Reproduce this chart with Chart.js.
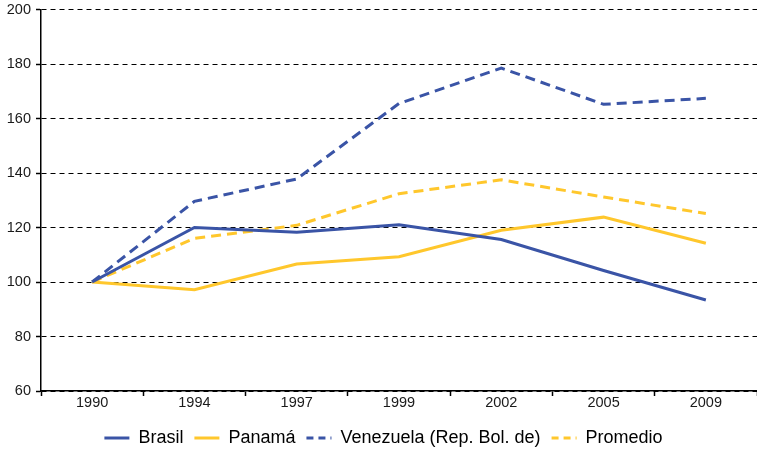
<!DOCTYPE html>
<html>
<head>
<meta charset="utf-8">
<script src="https://cdn.jsdelivr.net/npm/chart.js@4"></script>
<style>
html,body{margin:0;padding:0;background:#fff;}
#wrap{width:757px;height:449px;}
</style>
</head>
<body>
<div id="wrap"><canvas id="c" width="757" height="449"></canvas></div>
<script>
const categories = ['1990','1994','1997','1999','2002','2005','2009'];
const brasil    = [100, 120, 118.3, 121, 115.6, 104.2, 93.4];
const panama    = [100, 97.2, 106.6, 109.3, 119, 123.8, 114.2];
const venezuela = [100, 129.6, 137.8, 165.5, 178.5, 165.2, 167.4];
const promedio  = [100, 116, 120.8, 132.4, 137.5, 131.2, 125.1];
const yTicks    = [60, 80, 100, 120, 140, 160, 180, 200];

const BLUE = '#3A54A6';
const YELLOW = '#FFC72C';
const DASH = [10, 6];

function ds(label, data, color, dash) {
  return {
    label, data,
    borderColor: color, backgroundColor: color,
    borderWidth: 3, borderDash: dash, pointRadius: 0, pointHoverRadius: 0,
    tension: 0, fill: false, borderCapStyle: 'butt', borderJoinStyle: 'miter'
  };
}

const legendShift = {
  id: 'legendShift',
  afterLayout(chart) {
    const lg = chart.legend;
    if (lg) { lg.left += 4; lg.right += 4; }
  }
};

new Chart(document.getElementById('c'), {
  type: 'line',
  data: {
    labels: categories,
    datasets: [
      ds('Brasil', brasil, BLUE, []),
      ds('Panamá', panama, YELLOW, []),
      ds('Venezuela (Rep. Bol. de)', venezuela, BLUE, DASH),
      ds('Promedio', promedio, YELLOW, DASH)
    ]
  },
  plugins: [legendShift],
  options: {
    responsive: false,
    animation: false,
    devicePixelRatio: 1,
    layout: { padding: { top: 9.5, right: -2, bottom: -8, left: 0 } },
    plugins: {
      tooltip: { enabled: false },
      legend: {
        position: 'bottom',
        labels: {
          color: '#1a1a1a',
          font: { family: 'Liberation Sans, Arial, sans-serif', size: 18 },
          usePointStyle: true,
          pointStyleWidth: 25,
          boxHeight: 3,
          padding: 11,
          generateLabels(chart) {
            return chart.data.datasets.map((d, i) => ({
              text: d.label,
              fillStyle: d.borderColor,
              strokeStyle: d.borderColor,
              lineWidth: 3,
              lineDash: d.borderDash.length ? [7, 5] : [],
              pointStyle: 'line',
              datasetIndex: i,
              hidden: false
            }));
          }
        }
      }
    },
    scales: {
      x: {
        type: 'category',
        offset: true,
        grid: { offset: true, drawOnChartArea: false, drawTicks: true, tickLength: 5, tickColor: '#000', tickWidth: 1.5 },
        border: { display: true, color: '#000', width: 1.5 },
        ticks: { color: '#1a1a1a', padding: -2, maxRotation: 0, autoSkip: false,
          font: { family: 'Liberation Sans, Arial, sans-serif', size: 14.5 } },
        afterFit(scale) { scale.height = 27; }
      },
      y: {
        min: 60, max: 200,
        afterBuildTicks(scale) { scale.ticks = yTicks.map(v => ({ value: v })); },
        grid: { color: '#000', lineWidth: 1, drawTicks: true, tickLength: 5, tickColor: '#000', tickWidth: 1.5, tickBorderDash: [] },
        border: { display: true, color: '#000', width: 1.5, dash: [5, 4] },
        ticks: { color: '#1a1a1a', padding: 5,
          font: { family: 'Liberation Sans, Arial, sans-serif', size: 14.5, lineHeight: 0.6 } },
        afterFit(scale) { scale.width = 41; }
      }
    }
  }
});
</script>
</body>
</html>
